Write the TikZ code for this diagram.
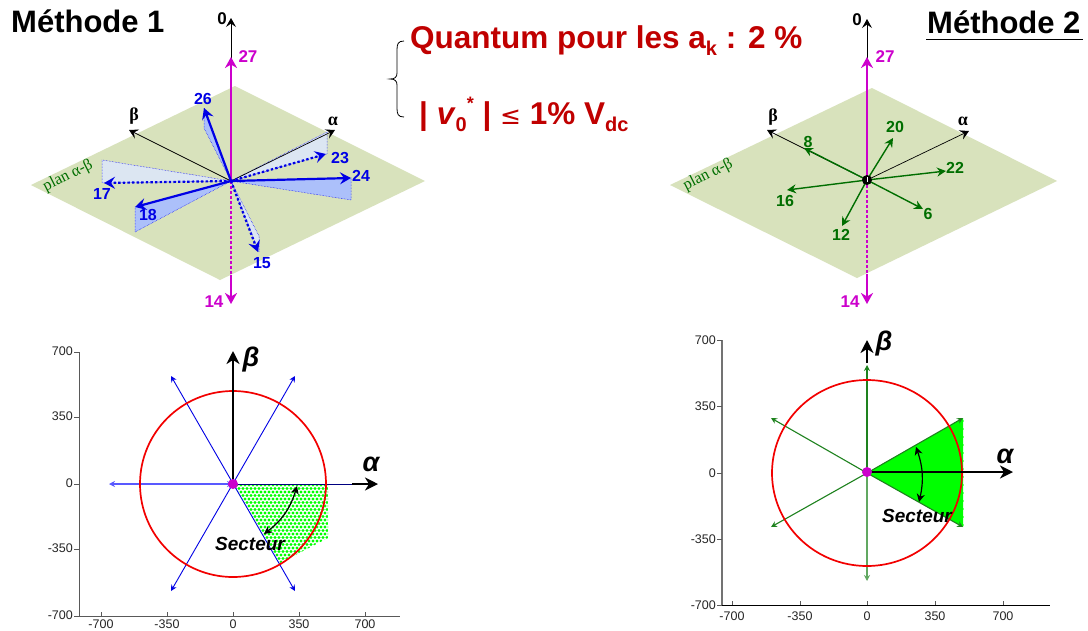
\documentclass[tikz,border=0pt]{standalone}
\usepackage{fontspec}
\setmainfont{Liberation Sans}
\newfontfamily\serifgr{Liberation Serif}
\usetikzlibrary{arrows.meta}
\definecolor{planfill}{RGB}{216,226,188}
\definecolor{lightshade}{RGB}{220,230,242}
\definecolor{darkshade}{RGB}{172,192,250}
\definecolor{magv}{RGB}{204,0,204}
\definecolor{titlered}{RGB}{192,0,0}
\definecolor{vgreen}{RGB}{0,110,0}
\definecolor{pgreen}{RGB}{30,130,30}
\tikzset{
  x=1pt,y=-1pt,
  axisarrow/.style={-{Stealth[length=9pt,width=10pt,inset=3.5pt]},black,line width=.7pt},
  magtip/.style={-{Stealth[length=11pt,width=12pt,inset=3.5pt]},magv,line width=2.6pt},
  bluevec/.style={-{Stealth[length=11pt,width=12pt,inset=4pt]},blue!90!black,line width=2.2pt},
  bluedot/.style={bluevec,dash pattern=on 2.4pt off 2.2pt},
  shadelight/.style={fill=lightshade,draw=blue,line width=.5pt,densely dotted},
  shadedark/.style={fill=darkshade,draw=blue,line width=.5pt,densely dotted},
  greenvec/.style={-{Stealth[length=9pt,width=9pt,inset=3pt]},vgreen,line width=1.4pt},
  lab/.style={font=\bfseries\fontsize{16}{16}\selectfont,inner sep=0pt},
  bluelab/.style={lab,text=blue!90!black},
  maglab/.style={lab,text=magv,font=\bfseries\fontsize{17}{17}\selectfont},
  greenlab/.style={lab,text=vgreen},
  greek/.style={font=\serifgr\bfseries\fontsize{18}{18}\selectfont,inner sep=0pt},
  plan/.style={font=\serifgr\fontsize{16}{16}\selectfont,text=vgreen,inner sep=0pt,rotate=27},
  title/.style={font=\bfseries\fontsize{31}{31}\selectfont,inner sep=0pt},
  redtxt/.style={font=\bfseries\fontsize{31.5}{31.5}\selectfont,text=titlered,inner sep=0pt,anchor=base west},
  ticklab/.style={font=\fontsize{12.5}{12.5}\selectfont,text=black!85,inner sep=0pt},
  plotaxis/.style={black!65,line width=.9pt},
  bigaxis/.style={-{Stealth[length=13pt,width=13pt,inset=4pt]},black,line width=2.4pt},
  blueray/.style={{Stealth[length=6pt,width=6pt,inset=2pt]}-{Stealth[length=6pt,width=6pt,inset=2pt]},blue!90!black,line width=.9pt},
  greenray/.style={-{Stealth[length=6pt,width=6pt,inset=2pt]},pgreen,line width=1.1pt},
  circ/.style={draw=red!95!black,line width=1.7pt},
  dbl/.style={{Stealth[length=8pt,width=8pt,inset=2.5pt]}-{Stealth[length=8pt,width=8pt,inset=2.5pt]},black,line width=1.2pt},
  sect/.style={font=\bfseries\itshape\fontsize{19}{19}\selectfont,inner sep=0pt},
  axgreek/.style={font=\bfseries\itshape\fontsize{27}{27}\selectfont,inner sep=0pt},
  hub/.style={circle,fill=magv,minimum size=10pt,inner sep=0pt},
}
\begin{document}
\begin{tikzpicture}
\useasboundingbox (0,0) rectangle (1088,630);
\fill[white] (0,0) rectangle (1088,630);
%%% Method 1 3D
\fill[planfill] (235,86) -- (425,181) -- (220,280) -- (31,185) -- cycle;
\coordinate (O1) at (231,181);
\coordinate (a26) at (204,108); \coordinate (a23) at (326,154); \coordinate (a24) at (351,178);
\coordinate (a17) at (104,183); \coordinate (a18) at (135,207); \coordinate (a15) at (258,252);
\filldraw[shadelight] (O1) -- (327,132) -- (327,154) -- cycle;
\filldraw[shadelight] (O1) -- (102,160) -- (102,183) -- cycle;
\filldraw[shadedark] (O1) -- (351,178) -- (351,200) -- cycle;
\filldraw[shadedark] (O1) -- (135,207) -- (135,232) -- cycle;
\filldraw[shadedark] (O1) -- (204,108) -- (204,128) -- cycle;
\filldraw[shadelight] (O1) -- (259,236) -- (259,252) -- cycle;
\node[greek] (b1) at (134,116) {β};
\node[greek] (c1) at (333,121) {α};
\coordinate (bt1) at (129,130); \coordinate (at1) at (335,130);
\draw[axisarrow] (O1) -- (bt1);
\draw[axisarrow] (O1) -- (at1);
\coordinate (z1) at (231,18); \coordinate (m1) at (231,57); \coordinate (d1) at (231,275); \coordinate (e1) at (231,304);
\draw[axisarrow,line width=.9pt] (O1) -- (z1);
\draw[magtip] (O1) -- (m1);
\draw[magv,line width=2.6pt,dash pattern=on 2.6pt off 2.4pt] (O1) -- (d1);
\draw[magtip] (d1) -- (e1);
\draw[bluevec] (O1) -- (a26);
\draw[bluevec] (O1) -- (a24);
\draw[bluevec] (O1) -- (a18);
\draw[bluedot] (O1) -- (a23);
\draw[bluedot] (O1) -- (a17);
\draw[bluedot] (O1) -- (a15);
\node[bluelab] (l26) at (203,99) {26};
\node[bluelab] (l23) at (340,158) {23};
\node[bluelab] (l24) at (361,176) {24};
\node[bluelab] (l17) at (102,194) {17};
\node[bluelab] (l18) at (148,215) {18};
\node[bluelab] (l15) at (262,263) {15};
\node[maglab] (l27) at (248,57) {27};
\node[maglab] (l14) at (214,302) {14};
\node[lab,font=\bfseries\fontsize{17}{17}\selectfont] (l0) at (222,19) {0};
\node[plan] (p1) at (68,176) {plan α-β};
\node[title,anchor=base west] (t1) at (11,32) {Méthode 1};
%%% red text
\node[redtxt] (q) at (410,48) {Quantum pour les a\raisebox{-.25em}{\fontsize{20}{20}\selectfont k} : 2 \%};
\node[redtxt] (v) at (419,124) {| \textit{v}\raisebox{-.25em}{\fontsize{20}{20}\selectfont 0}\raisebox{.45em}{\fontsize{18}{18}\selectfont *} | {\fontspec{DejaVu Sans}\mdseries\fontsize{25}{25}\selectfont ≤} 1\% V\raisebox{-.25em}{\fontsize{20}{20}\selectfont dc}};
\coordinate (brA) at (404,41); \coordinate (brB) at (404,117); \coordinate (brM) at (390,79);
\draw[black,line width=.8pt] (brA) .. controls (398,41) and (397,44) .. (397,50) -- (397,73) .. controls (397,77) and (395,79) .. (brM) .. controls (395,79) and (397,81) .. (397,85) -- (397,108) .. controls (397,114) and (398,117) .. (brB);
%%% Method 2 3D
\fill[planfill] (872,88) -- (1057,181) -- (857,278) -- (670,185) -- cycle;
\coordinate (O2) at (867,180);
\coordinate (bt2) at (767,130); \coordinate (at2) at (969,131);
\node[greek] (b2) at (773,117) {β};
\node[greek] (c2) at (963,121) {α};
\draw[axisarrow] (O2) -- (bt2);
\draw[axisarrow] (O2) -- (at2);
\coordinate (z2) at (867,19); \coordinate (m2) at (867,57); \coordinate (d2) at (867,274); \coordinate (e2) at (867,304);
\draw[axisarrow,line width=.9pt] (O2) -- (z2);
\draw[magtip] (O2) -- (m2);
\draw[magv,line width=2.6pt,dash pattern=on 2.6pt off 2.4pt] (O2) -- (d2);
\draw[magtip] (d2) -- (e2);
\coordinate (g8) at (804,148); \coordinate (g20) at (893,138); \coordinate (g22) at (946,171);
\coordinate (g16) at (787,190); \coordinate (g12) at (842,226); \coordinate (g6) at (923,209);
\foreach \t in {g8,g20,g22,g16,g12,g6} \draw[greenvec] (O2) -- (\t);
\fill[black] (O2) circle (5pt);
\fill[white] (866.6,177) rectangle (867.6,182);
\node[greenlab] (l8) at (808,142) {8};
\node[greenlab] (l20) at (895,127) {20};
\node[greenlab] (l22) at (955,168) {22};
\node[greenlab] (l16) at (785,201) {16};
\node[greenlab] (l12) at (841,235) {12};
\node[greenlab] (l6) at (928,214) {6};
\node[maglab] (m27) at (885,57) {27};
\node[maglab] (m14) at (850,302) {14};
\node[lab,font=\bfseries\fontsize{17}{17}\selectfont] (m0) at (857,20) {0};
\node[plan] (p2) at (708,175) {plan α-β};
\node[title,anchor=base west] (t2) at (927,33) {Méthode 2};
\draw[black,line width=1.8pt] (926,39.5) -- (1083,39.5);
%%% Plot 1
\draw[plotaxis] (79,352) -- (79,616) -- (400,616);
\foreach \y/\t in {352/700,417/350,484/0,549/-350,616/-700}{
  \draw[plotaxis] (74,\y) -- (79,\y);
  \node[ticklab,anchor=east] at (73,\y-1) {\t};
}
\foreach \x/\t in {101/-700,167/-350,233/0,299/350,365/700}{
  \draw[plotaxis] (\x,612) -- (\x,616);
  \node[ticklab,anchor=north] at (\x,620) {\t};
}
\begin{scope}
  \clip (233,484) -- (328,484) -- (328,538) -- (280,563) -- cycle;
  \foreach \i in {0,...,25} \foreach \j in {0,...,24}{
    \pgfmathsetmacro{\px}{233+\i*4+mod(\j,2)*2}
    \pgfmathsetmacro{\py}{485+\j*3.5}
    \fill[green] (\px,\py) circle (1.6pt);
  }
\end{scope}
\coordinate (c1c) at (233,484);
\draw[blueray] (171,376) -- (295,591);
\draw[blueray] (295,376) -- (171,591);
\draw[blueray,line width=1.4pt,blue!65] (109,484) -- (233,484);
\draw[blueray,line width=1pt,blue!50!black,{-}] (233,484) -- (355,484);
\draw[circ] (c1c) circle (93pt);
\coordinate (bb1) at (233,351); \coordinate (aa1) at (378,484); \coordinate (as1) at (352,484);
\draw[bigaxis] (c1c) -- (bb1);
\draw[bigaxis] (as1) -- (aa1);
\node[hub] (h1) at (c1c) {};
\node[axgreek] (bl1) at (251,360) {β};
\node[axgreek] (al1) at (371,464) {α};
\coordinate (arcA) at (297,486); \coordinate (arcB) at (264,534);
\draw[dbl] (arcA) to[bend left=18] (arcB);
\node[sect] (s1) at (250,544) {Secteur};
%%% Plot 2
\draw[black!55,line width=1.8pt] (722,340) -- (722,605);
\draw[black,line width=.9pt] (722,605) -- (1050,605);
\foreach \y/\t in {340/700,406/350,473/0,539/-350,605/-700}{
  \draw[plotaxis] (717,\y) -- (722,\y);
  \node[ticklab,anchor=east] at (716,\y) {\t};
}
\foreach \x/\t in {732/-700,800/-350,867/0,935/350,1003/700}{
  \draw[plotaxis] (\x,601) -- (\x,605);
  \node[ticklab,anchor=north] at (\x,612) {\t};
}
\coordinate (c2c) at (867,473);
\coordinate (hub2) at (867,472);
\fill[green] (c2c) -- (963,418) -- (963,527) -- cycle;
\foreach \k in {0,...,13}{
  \pgfmathsetmacro{\py}{421+\k*8}
  \fill[green] (962,\py) circle (1.8pt);
}
\draw[greenray] (c2c) -- (963,418);
\draw[greenray] (c2c) -- (963,527);
\draw[greenray] (c2c) -- (771,418);
\draw[greenray] (c2c) -- (771,527);
\draw[greenray] (c2c) -- (867,365);
\draw[greenray,pgreen!70] (c2c) -- (867,581);
\draw[circ] (c2c) ellipse (95pt and 93pt);
\coordinate (bb2) at (867,340); \coordinate (bs2) at (867,363); \coordinate (aa2) at (1013,472);
\draw[bigaxis] (bs2) -- (bb2);
\draw[bigaxis] (hub2) -- (aa2);
\node[hub] (h2) at (hub2) {};
\node[axgreek] (bl2) at (884,344) {β};
\node[axgreek] (al2) at (1005,456) {α};
\coordinate (arcC) at (916,447); \coordinate (arcD) at (919,502);
\draw[dbl] (arcC) to[bend left=16] (arcD);
\node[sect] (s2) at (917,516) {Secteur};
\end{tikzpicture}
\end{document}
